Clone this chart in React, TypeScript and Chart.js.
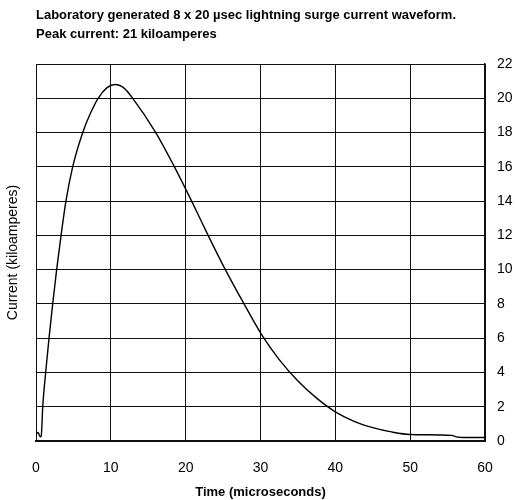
import { useEffect, useRef } from "react";
import { Chart, registerables } from "chart.js";

Chart.register(...registerables);

const titleLines = [
  "Laboratory generated 8 x 20 µsec lightning surge current waveform.",
  "Peak current: 21 kiloamperes",
];
const xAxisTitle = "Time (microseconds)";
const yAxisTitle = "Current (kiloamperes)";

const timeUs = [
  0, 0.2, 0.35, 0.55, 0.7, 0.9, 1.29, 1.74, 2.23, 2.76, 3.35, 4.0, 4.9, 6.2, 7.2, 8.3, 9.5, 10.6,
  11.8, 13.0, 16.0, 18.5, 20.8, 23.0, 25.3, 27.8, 30.3, 32.5, 35.0, 37.5, 40.0, 42.5,
  45.0, 47.5, 50.0, 55.5, 56.5, 60.0,
];
const currentKA = [
  0.35, 0.5, 0.45, 0.25, 0.3, 2.0, 4.0, 6.0, 8.0, 10.0, 12.0, 14.0, 16.0, 17.95, 19.05, 20.0, 20.62, 20.8,
  20.58, 19.95, 18.0, 16.0, 14.0, 12.0, 10.0, 8.0, 6.1, 4.75, 3.5, 2.5, 1.7, 1.15,
  0.78, 0.53, 0.38, 0.33, 0.22, 0.2,
];
const xTicks = [0, 10, 20, 30, 40, 50, 60];
const yTicks = [0, 2, 4, 6, 8, 10, 12, 14, 16, 18, 20, 22];

const FONT = "'Liberation Sans', Arial, Helvetica, sans-serif";

export default function App() {
  const ref = useRef<HTMLCanvasElement | null>(null);

  useEffect(() => {
    const canvas = ref.current;
    if (!canvas) return;

    const titlePlugin = {
      id: "leftTitle",
      afterDraw(chart: any) {
        const ctx = chart.ctx;
        ctx.save();
        ctx.fillStyle = "#000";
        ctx.font = `bold 13px ${FONT}`;
        ctx.textAlign = "left";
        ctx.textBaseline = "middle";
        titleLines.forEach((line, i) => {
          ctx.fillText(line, chart.chartArea.left, 15 + i * 19);
        });
        ctx.restore();
      },
    };

    const chart = new Chart(canvas, {
      type: "line",
      data: {
        datasets: [
          {
            data: timeUs.map((t, i) => ({ x: t, y: currentKA[i] })),
            borderColor: "#000",
            borderWidth: 1.4,
            pointRadius: 0,
            cubicInterpolationMode: "monotone",
            fill: false,
          },
        ],
      },
      options: {
        animation: false,
        responsive: false,
        devicePixelRatio: 1,
        layout: { padding: { top: 64, left: 0, right: 0, bottom: 0 } },
        plugins: {
          legend: { display: false },
          tooltip: { enabled: false },
          title: { display: false },
        },
        scales: {
          x: {
            type: "linear",
            position: "bottom",
            min: 0,
            max: 60,
            afterBuildTicks(scale: any) {
              scale.ticks = xTicks.map((v) => ({ value: v }));
            },
            afterFit(scale: any) {
              scale.height = 59;
            },
            grid: { color: "#111", lineWidth: 1, drawTicks: false },
            border: { display: true, color: "#111", width: 2 },
            ticks: {
              color: "#000",
              padding: 19,
              maxRotation: 0,
              font: { family: FONT, size: 14 },
            },
            title: {
              display: true,
              text: xAxisTitle,
              color: "#000",
              font: { family: FONT, size: 13, weight: "bold" },
              padding: { top: 3, bottom: 0 },
            },
          },
          y: {
            type: "linear",
            position: "right",
            min: 0,
            max: 22,
            afterBuildTicks(scale: any) {
              scale.ticks = yTicks.map((v) => ({ value: v }));
            },
            afterFit(scale: any) {
              scale.width = 32;
            },
            grid: { color: "#111", lineWidth: 1, drawTicks: false },
            border: { display: true, color: "#111", width: 1.5 },
            ticks: {
              color: "#000",
              padding: 12,
              font: { family: FONT, size: 14 },
            },
          },
          yLeft: {
            type: "linear",
            position: "left",
            min: 0,
            max: 22,
            afterFit(scale: any) {
              scale.width = 36;
            },
            grid: { display: false, drawTicks: false },
            border: { display: false },
            ticks: { display: false },
            title: {
              display: true,
              text: yAxisTitle,
              color: "#000",
              font: { family: FONT, size: 14 },
              padding: { top: 5, bottom: 0 },
            },
          },
        },
      } as any,
      plugins: [titlePlugin],
    });

    return () => chart.destroy();
  }, []);

  return (
    <div style={{ position: "absolute", left: 0, top: 0, width: 517, height: 500 }}>
      <canvas ref={ref} width={517} height={500} style={{ display: "block" }} />
    </div>
  );
}
